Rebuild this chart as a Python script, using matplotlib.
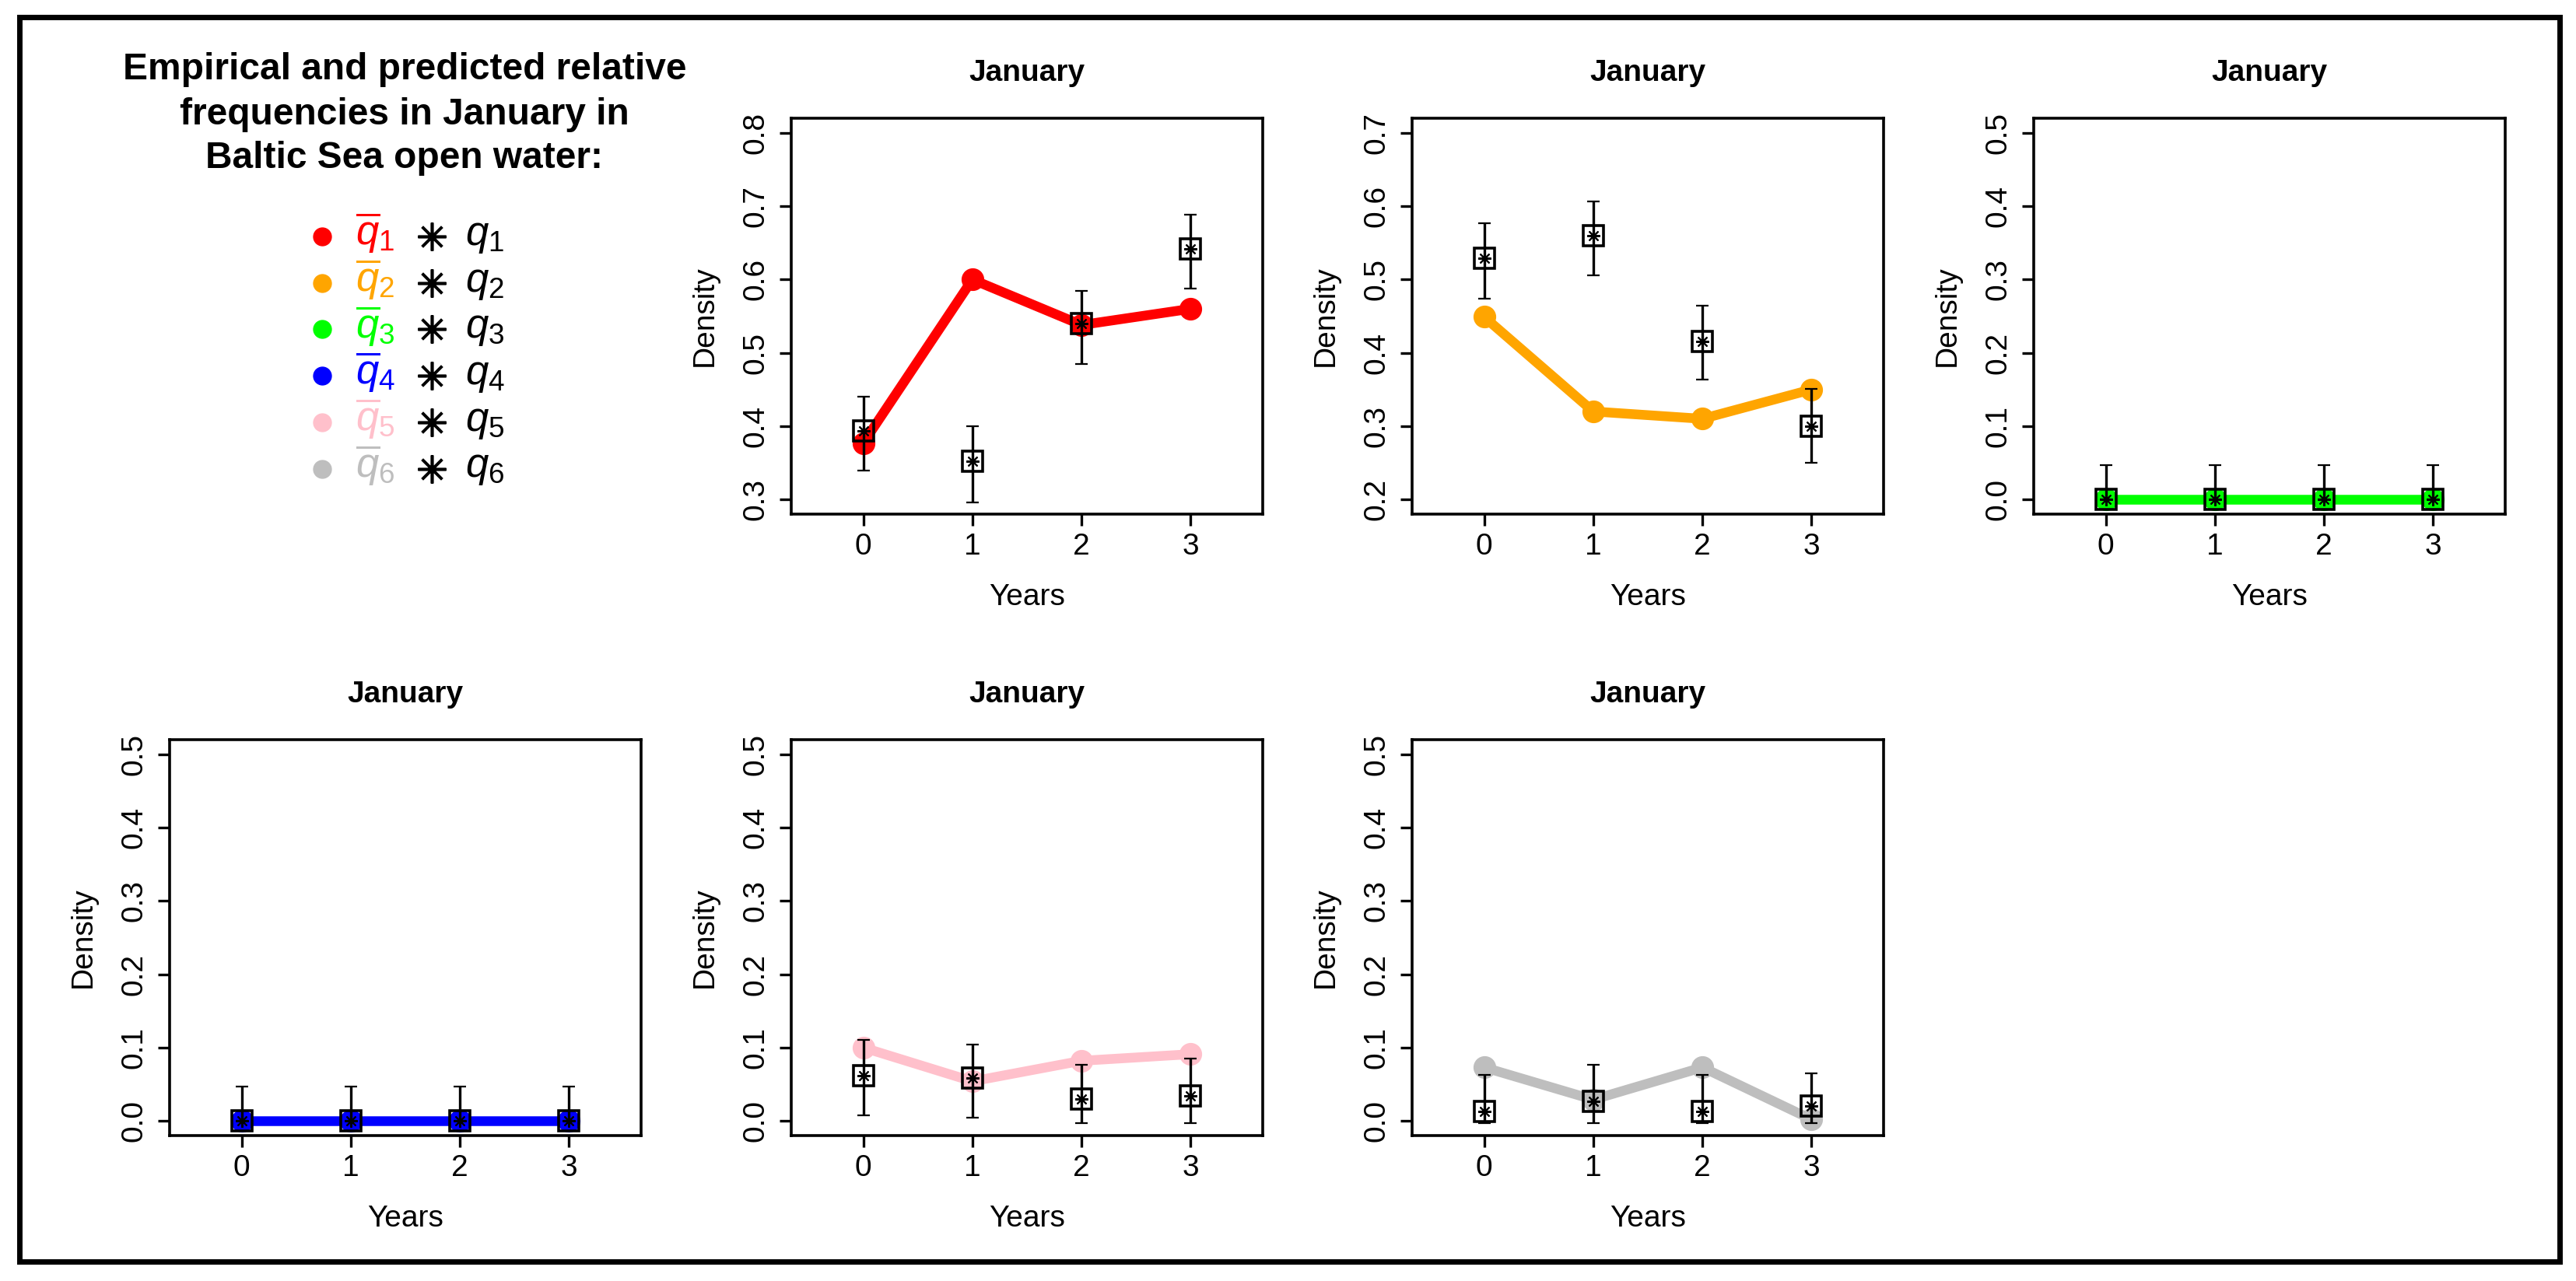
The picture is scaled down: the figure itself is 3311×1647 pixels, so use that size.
import numpy as np
import matplotlib
matplotlib.use('Agg')
import matplotlib.pyplot as plt
from matplotlib.patches import Rectangle
from matplotlib.lines import Line2D

plt.rcParams['font.family'] = ['Liberation Sans', 'DejaVu Sans']
plt.rcParams['mathtext.fontset'] = 'custom'
plt.rcParams['mathtext.rm'] = 'Liberation Sans'
plt.rcParams['mathtext.it'] = 'Liberation Sans:italic'
plt.rcParams['mathtext.bf'] = 'Liberation Sans:bold'

#################################
# Data
#################################

years = [0, 1, 2, 3]
month = 'January'
colours = ['#FF0000', '#FFA500', '#00FF00', '#0000FF', '#FFC0CB', '#BEBEBE']

# predicted relative frequencies (coloured lines)
pred_q1 = [0.377, 0.600, 0.538, 0.560]
pred_q2 = [0.449, 0.320, 0.310, 0.350]
pred_q3 = [0.0, 0.0, 0.0, 0.0]
pred_q4 = [0.0, 0.0, 0.0, 0.0]
pred_q5 = [0.100, 0.054, 0.082, 0.091]
pred_q6 = [0.073, 0.029, 0.073, 0.002]

# empirical relative frequencies (squares) with interval bounds
emp_q1 = [0.394, 0.352, 0.540, 0.642]
emp_q2 = [0.529, 0.560, 0.415, 0.300]
emp_q3 = [0.0, 0.0, 0.0, 0.0]
emp_q4 = [0.0, 0.0, 0.0, 0.0]
emp_q5 = [0.062, 0.058, 0.030, 0.034]
emp_q6 = [0.013, 0.027, 0.013, 0.020]

lo_q1 = [0.339, 0.296, 0.485, 0.588]
lo_q2 = [0.474, 0.506, 0.364, 0.250]
lo_q3 = [0.0, 0.0, 0.0, 0.0]
lo_q4 = [0.0, 0.0, 0.0, 0.0]
lo_q5 = [0.008, 0.004, -0.003, -0.003]
lo_q6 = [-0.003, -0.003, -0.003, -0.003]

hi_q1 = [0.440, 0.400, 0.585, 0.688]
hi_q2 = [0.577, 0.606, 0.464, 0.351]
hi_q3 = [0.047, 0.047, 0.047, 0.047]
hi_q4 = [0.047, 0.047, 0.047, 0.047]
hi_q5 = [0.110, 0.104, 0.077, 0.085]
hi_q6 = [0.063, 0.077, 0.063, 0.065]

# y ranges of each panel (before the 4% R-style padding)
ylims = [(0.3, 0.8), (0.2, 0.7), (0.0, 0.5), (0.0, 0.5), (0.0, 0.5), (0.0, 0.5)]

preds = [pred_q1, pred_q2, pred_q3, pred_q4, pred_q5, pred_q6]
emps = [emp_q1, emp_q2, emp_q3, emp_q4, emp_q5, emp_q6]
los = [lo_q1, lo_q2, lo_q3, lo_q4, lo_q5, lo_q6]
his = [hi_q1, hi_q2, hi_q3, hi_q4, hi_q5, hi_q6]

legend_title = ['Empirical and predicted relative',
                'frequencies in January in',
                'Baltic Sea open water:']

#################################
# Layout (pixels)
#################################

W, H = 3311, 1647
fig = plt.figure(figsize=(W / 100, H / 100), dpi=100)

def fx(x):
    return x / W

def fy(y):
    return 1 - y / H

col_left = [218, 1017, 1815, 2614]
row_top = [152, 951]
box_w, box_h = 606, 509
cells = [(0, 1), (0, 2), (0, 3), (1, 0), (1, 1), (1, 2)]

FS = 28  # tick / axis label size

for k, (r, c) in enumerate(cells):
    left, top = col_left[c], row_top[r]
    ax = fig.add_axes([fx(left), fy(top + box_h), box_w / W, box_h / H])
    col = colours[k]

    # predicted
    ax.plot(years, preds[k], color=col, lw=9, marker='o', ms=20,
            mfc=col, mec=col, zorder=2, solid_joinstyle='round')

    # empirical with bars
    emp = np.array(emps[k])
    yerr = [emp - np.array(los[k]), np.array(his[k]) - emp]
    ax.errorbar(years, emp, yerr=yerr, fmt='none', ecolor='black',
                elinewidth=2.4, capsize=6, capthick=1.6, zorder=3)
    ax.plot(years, emp, ls='none', marker='s', ms=19, mfc='none',
            mec='black', mew=2.6, zorder=4)
    ax.plot(years, emp, ls='none', marker=(8, 2, 0), ms=12, mew=1.5,
            color='black', zorder=5)

    lo_y, hi_y = ylims[k]
    pad = 0.04 * (hi_y - lo_y)
    ax.set_ylim(lo_y - pad, hi_y + pad)
    ax.set_xlim(-0.5 - 0.16, 3.5 + 0.16)

    yt = np.round(np.arange(lo_y, hi_y + 0.001, 0.1), 1)
    ax.set_yticks(yt)
    ax.set_yticklabels(['%.1f' % t for t in yt], rotation=90, va='center')
    ax.set_xticks(years)
    ax.tick_params(direction='out', length=11, width=2.4, labelsize=FS,
                   color='black')
    ax.tick_params(axis='y', pad=9)
    ax.tick_params(axis='x', pad=6)
    for s in ax.spines.values():
        s.set_linewidth(2.6)

    ax.text(0.5, 1 + 58 / box_h, month, transform=ax.transAxes,
            ha='center', va='center', fontsize=FS, fontweight='bold')
    ax.text(0.5, -107 / box_h, 'Years', transform=ax.transAxes,
            ha='center', va='center', fontsize=FS)
    ax.text(-111 / box_w, 0.5, 'Density', transform=ax.transAxes,
            ha='center', va='center', fontsize=FS, rotation=90)

#################################
# Legend panel
#################################

title_y = [89, 147, 203]
for line, yy in zip(legend_title, title_y):
    fig.text(fx(520), fy(yy), line, ha='center', va='center',
             fontsize=34.5, fontweight='bold')

for i in range(6):
    yy = 304 + i * 59.7
    fig.add_artist(Line2D([fx(414)], [fy(yy)], marker='o', ms=16.5,
                          color=colours[i], transform=fig.transFigure))
    fig.text(fx(457), fy(yy + 11), r'$\overline{q}_{%d}$' % (i + 1),
             color=colours[i], fontsize=38, ha='left', va='baseline')
    fig.add_artist(Line2D([fx(555)], [fy(yy)], marker=(8, 2, 0), ms=26,
                          mew=2.6, color='black', transform=fig.transFigure))
    fig.text(fx(598), fy(yy + 11), r'$q_{%d}$' % (i + 1),
             color='black', fontsize=38, ha='left', va='baseline')

# outer frame
fig.add_artist(Rectangle((fx(25), fy(1622)), (3290 - 25) / W, (1622 - 22) / H,
                         transform=fig.transFigure, fill=False, lw=5,
                         ec='black'))

fig.savefig('out.png', dpi=100)
